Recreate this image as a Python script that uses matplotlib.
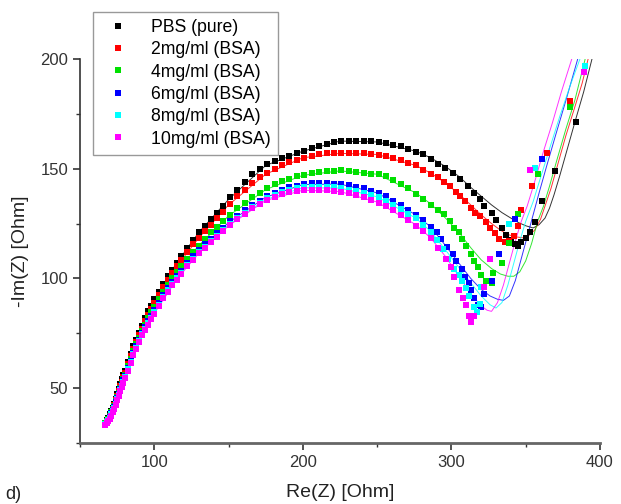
import matplotlib
matplotlib.use("Agg")
import matplotlib.pyplot as plt

plt.rcParams['font.family'] = ['Liberation Sans', 'DejaVu Sans']

labels = ['PBS (pure)', '2mg/ml (BSA)', '4mg/ml (BSA)', '6mg/ml (BSA)', '8mg/ml (BSA)', '10mg/ml (BSA)']
colors = ['#000000', '#ff0000', '#00e000', '#0000ff', '#00ffff', '#ff00ff']

# measured points, Re(Z) / -Im(Z) in Ohm
pbs_x = [67, 68, 69, 70, 71, 72, 73, 74, 75, 76, 77, 78, 79, 80, 82, 84, 86, 88, 90, 92, 94, 96, 98, 100,
         103, 106, 109, 112, 115, 118, 122, 126, 130, 134, 138, 142, 146, 151, 156, 161, 166, 171, 176, 181,
         186, 191, 196, 201, 206, 211, 216, 221, 226, 231, 236, 241, 246, 251, 256, 261, 266, 271, 276, 281,
         286, 291, 296, 301, 306, 311, 315, 319, 322, 327, 330, 334, 337, 340, 343, 345, 347, 350, 353, 356,
         361, 370, 384]
pbs_y = [34, 35.5, 36.5, 38, 39.5, 41, 43, 45, 47.5, 49.5, 52, 54, 56, 58, 62, 65.5, 69, 72, 75, 78.5, 82, 85, 87.5, 90.5,
         94, 97.5, 101, 104, 107, 110, 114, 117.5, 121, 124, 127, 130, 133, 137, 140.5, 144, 147.5, 150, 152, 153.5,
         155, 156, 157, 158, 159.5, 160.5, 161.3, 162, 162.7, 162.8, 162.8, 162.8, 162.5, 162, 161.6, 161, 160.3, 159, 157.8, 156.5,
         154.3, 152, 150.3, 148, 145.5, 142, 139, 136, 133, 129.8, 126.5, 123, 120, 117.5, 115.8, 115, 116.5, 118.5, 121, 125.5,
         135.5, 149, 171.5]

bsa2_x = [67, 68, 69, 70, 71, 72, 73, 74, 75, 76, 77, 78, 79, 80, 82, 84, 86, 88, 90, 92, 94, 96, 98, 100,
          103, 106, 109, 112, 115, 118, 122, 126, 130, 134, 138, 142, 146, 151, 156, 161, 166, 171, 176, 181,
          186, 191, 196, 201, 206, 211, 216, 221, 226, 231, 236, 241, 246, 251, 256, 261, 266, 271, 276, 281,
          286, 291, 295, 299, 303, 306, 309, 313, 316, 319, 323, 326, 329, 332, 336, 339, 342, 344.6, 347, 354,
          364, 380]
bsa2_y = [34, 35, 36, 37.5, 39, 40.5, 42.5, 44.5, 46.5, 48.5, 51, 53, 55, 57, 61, 64.5, 68, 71, 74, 77, 80.5, 83.5, 86, 89,
          92.5, 96, 99.5, 102.5, 105.5, 108.5, 112, 115.5, 118.5, 121.5, 124.5, 127.5, 130.5, 134, 137.5, 140.5, 143.5, 146, 148, 150,
          151.5, 153, 154, 155, 156, 156.5, 157, 157, 157, 157, 157, 157, 156.8, 156.4, 156, 155, 154, 152.8, 151.5, 149.5,
          147.5, 146, 144, 142, 139.5, 137.5, 135.5, 132, 130, 128.6, 125.5, 123, 120.5, 118, 116.5, 117, 119.5, 124, 131, 142,
          157, 181]

bsa4_x = [67, 68, 69, 70, 71, 72, 73, 74, 75, 76, 77, 78, 79, 80, 82, 84, 86, 88, 90, 92, 94, 96, 98, 100,
          103, 106, 109, 112, 115, 118, 122, 126, 130, 134, 138, 142, 146, 151, 156, 161, 166, 171, 176, 181,
          186, 191, 196, 201, 206, 211, 216, 221, 226, 231, 236, 241, 246, 251, 256, 261, 266, 271, 276, 281,
          286, 291, 295, 299, 302, 305, 307, 310, 313.5, 315.5, 318, 320, 323.5, 327, 328, 334, 339, 345, 358,
          380]
bsa4_y = [34, 35, 36, 37.5, 39, 40.5, 42, 44, 46, 48, 50, 52, 54, 56, 60, 63.5, 67, 70, 73, 76, 79, 82, 84.5, 87,
          90.5, 94, 97, 100, 103, 105.5, 109, 112, 115, 118, 121, 123.5, 126, 129, 132, 134.5, 137, 139, 141, 143,
          144.5, 145.5, 146.5, 147.3, 148, 148.5, 148.8, 149, 149.2, 148.8, 148.5, 148.2, 147.8, 147.4, 146.5, 145, 143, 141, 138.5, 136.2,
          133.5, 131, 129.5, 126, 123, 121, 118, 115, 111, 108, 105, 101.5, 99, 98, 102.5, 107, 116, 129.5, 147.7,
          178]

bsa6_x = [67, 68, 69, 70, 71, 72, 73, 74, 75, 76, 77, 78, 79, 80, 82, 84, 86, 88, 90, 92, 94, 96, 98, 100,
          103, 106, 109, 112, 115, 118, 122, 126, 130, 134, 138, 142, 146, 151, 156, 161, 166, 171, 176, 181,
          186, 191, 196, 201, 206, 211, 216, 221, 226, 231, 236, 241, 246, 251, 256, 261, 266, 271, 276, 281,
          286, 290, 293, 297, 301, 303, 307, 309, 311.5, 313, 315, 318, 320, 322, 327, 332, 342.6, 361]
bsa6_y = [33.5, 34.5, 35.5, 37, 38.5, 40, 41.5, 43.5, 45.5, 47.5, 49.5, 51.5, 53.5, 55.5, 59, 62.5, 66, 69, 72, 75, 78, 80.5, 83, 85.5,
          89, 92.5, 95.5, 98.5, 101, 103.5, 107, 110, 113, 115.5, 118, 120.5, 123, 126, 128.5, 131, 133.5, 135.5, 137.5, 139,
          140.5, 141.5, 142.3, 143, 143.3, 143.5, 143.5, 143.2, 143, 142.5, 141.8, 141, 140, 139, 137.5, 135.5, 133.5, 131, 129, 126.5,
          123.5, 121, 118, 114.5, 111, 108, 104.5, 100.5, 97.7, 94.5, 91, 87.7, 87, 93, 99, 111, 127, 154.5]

bsa8_x = [67, 68, 69, 70, 71, 72, 73, 74, 75, 76, 77, 78, 79, 80, 82, 84, 86, 88, 90, 92, 94, 96, 98, 100,
          103, 106, 109, 112, 115, 118, 122, 126, 130, 134, 138, 142, 146, 151, 156, 161, 166, 171, 176, 181,
          186, 191, 196, 201, 206, 211, 216, 221, 226, 231, 236, 241, 246, 251, 256, 261, 266, 271, 276, 281,
          286, 290, 294, 298, 302, 305, 307, 310, 312, 315.5, 317, 319, 320, 339, 356, 390]
bsa8_y = [33.5, 34.5, 35.5, 36.5, 38, 39.5, 41, 43, 45, 47, 49, 51, 53, 55, 58.5, 62, 65.5, 68.5, 71.5, 74.5, 77, 79.5, 82, 84.5,
          88, 91.5, 94.5, 97.5, 100, 102.5, 106, 109, 112, 114.5, 117, 119.5, 122, 125, 127.5, 130, 132.5, 134.5, 136.5, 138,
          139.3, 140.2, 141, 141.5, 141.7, 141.8, 141.8, 141.5, 141, 140.5, 139.8, 139, 138, 137, 135.5, 133.5, 131.5, 129.5, 127.5, 124.5,
          121, 117.5, 113.5, 109, 104.5, 101.5, 99, 95.5, 92, 87, 84.5, 88.5, 96, 125, 150.5, 197]

bsa10_x = [67, 68, 69, 70, 71, 72, 73, 74, 75, 76, 77, 78, 79, 80, 82, 84, 86, 88, 90, 92, 94, 96, 98, 100,
           103, 106, 109, 112, 115, 118, 122, 126, 130, 134, 138, 142, 146, 151, 156, 161, 166, 171, 176, 181,
           186, 191, 196, 201, 206, 211, 216, 221, 226, 231, 236, 241, 246, 251, 256, 261, 266, 271, 276, 281,
           286, 291, 296.6, 300, 302, 305.4, 308, 310, 312, 313.5, 315, 321.6, 326, 353, 389]
bsa10_y = [33, 34, 35, 36, 37.5, 39, 40.5, 42.5, 44.5, 46.5, 48.5, 50.5, 52.5, 54.5, 58, 61.5, 65, 68, 71, 74, 76.5, 79, 81.5, 84,
           87.5, 91, 94, 97, 99.5, 102, 105.5, 108.5, 111.5, 114, 116.5, 119, 121.5, 124.5, 127, 129.5, 132, 134, 135.8, 137.2,
           138.4, 139.2, 139.8, 140.2, 140.3, 140.3, 140.2, 140, 139.5, 138.8, 138, 137, 135.8, 134.5, 133, 131, 129, 126.5, 124, 121.5,
           118.5, 114, 109, 105, 100.5, 94.5, 91, 87.7, 83, 80, 83, 96, 109, 149.5, 194]

# fitted curves
fit_pbs_x = [67, 70, 75, 80, 90, 100, 115, 130, 150, 175, 200, 225, 250, 276, 286, 296, 305, 313, 320, 327, 334, 340,
             345, 350, 355, 359, 363, 366, 369, 373, 378, 383, 389, 394.6]
fit_pbs_y = [34, 38, 47.5, 58, 75, 90.5, 107, 121, 136, 151.5, 158, 162.6, 162.2, 158, 155, 151, 146.5, 141.5, 137.5, 133.5, 130, 127.5,
             125.5, 124, 123, 124.5, 127.5, 132, 138, 147, 159, 171, 185, 200]
fit_bsa2_x = [67, 70, 75, 80, 90, 100, 115, 130, 150, 175, 200, 225, 250, 276, 286, 296, 305, 313, 320, 327, 333, 338,
              343, 348, 352, 356, 360, 363, 367, 372, 377, 383, 388, 392]
fit_bsa2_y = [34, 37.5, 46.5, 57, 74, 89, 105.5, 118.5, 133.5, 147.5, 155, 157, 156.5, 151.5, 148, 143.5, 138.5, 133.5, 129, 125, 122, 120,
              119, 118.5, 119.5, 122, 127, 133, 141, 153, 165, 178, 189, 200]
fit_bsa4_x = [67, 70, 75, 80, 90, 100, 115, 130, 150, 175, 200, 225, 250, 276, 286, 296, 305, 313, 320, 327, 333, 338,
              342, 346, 350, 354, 358, 362, 366, 371, 377, 383, 390]
fit_bsa4_y = [34, 37.5, 46, 56, 73, 87, 103, 115, 128.5, 140.5, 147, 149, 147.5, 139, 134, 127.5, 121, 114, 108.5, 104.5, 102, 101,
              101, 103, 108, 116, 126, 133, 142, 154, 168, 181, 200]
fit_bsa6_x = [67, 70, 75, 80, 90, 100, 115, 130, 150, 175, 200, 225, 250, 276, 286, 296, 305, 313, 320, 326, 331, 335,
              339, 343, 347, 351, 355, 359, 364, 370, 377, 385]
fit_bsa6_y = [33.5, 37, 45.5, 55.5, 72, 85.5, 101, 113, 125.5, 137, 142.8, 143, 139, 129, 123.5, 115, 107, 100, 95, 92, 90.5, 90,
              92, 99, 109, 119, 129, 139, 151, 165, 181, 200]
fit_bsa8_x = [67, 70, 75, 80, 90, 100, 115, 130, 150, 175, 200, 225, 250, 276, 286, 296, 305, 313, 320, 326, 330, 334,
              338, 342, 346, 350, 355, 360, 366, 373, 380, 386.5]
fit_bsa8_y = [33.5, 36.5, 45, 55, 71.5, 84.5, 100, 112, 124.5, 136, 141.3, 141.2, 137.2, 127.5, 121.5, 113, 105, 98, 92, 88, 86.5, 89,
              97, 107, 117, 126, 135, 146, 159, 174, 188, 200]
fit_bsa10_x = [67, 70, 75, 80, 90, 100, 115, 130, 150, 175, 200, 225, 250, 276, 286, 296, 305, 313, 320, 324, 327, 331,
               335, 339, 343, 347, 351, 356, 362, 368, 374, 381]
fit_bsa10_y = [33, 36, 44.5, 54.5, 71, 84, 99.5, 111.5, 124, 135.5, 140.2, 139.6, 134.8, 124.5, 118.5, 110, 101, 93, 87.5, 85.5, 85, 89,
               97, 107, 117, 126, 133, 144, 158, 171, 185, 200]

points = [(pbs_x, pbs_y), (bsa2_x, bsa2_y), (bsa4_x, bsa4_y), (bsa6_x, bsa6_y), (bsa8_x, bsa8_y), (bsa10_x, bsa10_y)]
fits = [(fit_pbs_x, fit_pbs_y), (fit_bsa2_x, fit_bsa2_y), (fit_bsa4_x, fit_bsa4_y),
        (fit_bsa6_x, fit_bsa6_y), (fit_bsa8_x, fit_bsa8_y), (fit_bsa10_x, fit_bsa10_y)]

fig = plt.figure(figsize=(6.21, 5.04), dpi=100)
ax = fig.add_axes([80 / 621, 1 - 443 / 504, 520 / 621, 384 / 504])

for (fx, fy), c in zip(fits, colors):
    ax.plot(fx, fy, '-', color=c, lw=0.7, alpha=0.8, zorder=1)

handles = []
for (px, py), c, lab in zip(points, colors, labels):
    h, = ax.plot(px, py, 's', color=c, ms=3.8, mew=0, ls='none', label=lab, zorder=2)
    handles.append(h)

ax.set_xlim(50, 400)
ax.set_ylim(25, 200)
ax.set_xticks([100, 200, 300, 400])
ax.set_xticks([50, 150, 250, 350], minor=True)
ax.set_yticks([50, 100, 150, 200])
ax.set_yticks([25, 75, 125, 175], minor=True)

for side in ['top', 'right']:
    ax.spines[side].set_visible(False)
ax.spines['left'].set_color('#333333')
ax.spines['bottom'].set_color('#666666')
ax.spines['left'].set_linewidth(1.2)
ax.spines['bottom'].set_linewidth(2.0)

ax.tick_params(which='major', direction='out', length=5, width=1.2, color='#333333',
               labelsize=12, labelcolor='#333333')
ax.tick_params(which='minor', direction='out', length=3, width=1.0, color='#333333')

ax.set_xlabel('Re(Z) [Ohm]', fontsize=14, color='#222222', labelpad=10)
ax.set_ylabel('-Im(Z) [Ohm]', fontsize=14, color='#222222', labelpad=8)

fig.legend(handles=handles, loc='upper left', bbox_to_anchor=(93 / 621, 1 - 12 / 504),
           fontsize=12.7, frameon=True, fancybox=False, edgecolor='#999999', framealpha=1,
           borderaxespad=0, borderpad=0.4, handlelength=2.0, handletextpad=0.9,
           labelspacing=0.3, markerscale=1.0)

fig.text(5 / 621, 1 / 504, 'd)', fontsize=13, va='bottom', ha='left', color='#222222')

fig.savefig('out.png', dpi=100)
